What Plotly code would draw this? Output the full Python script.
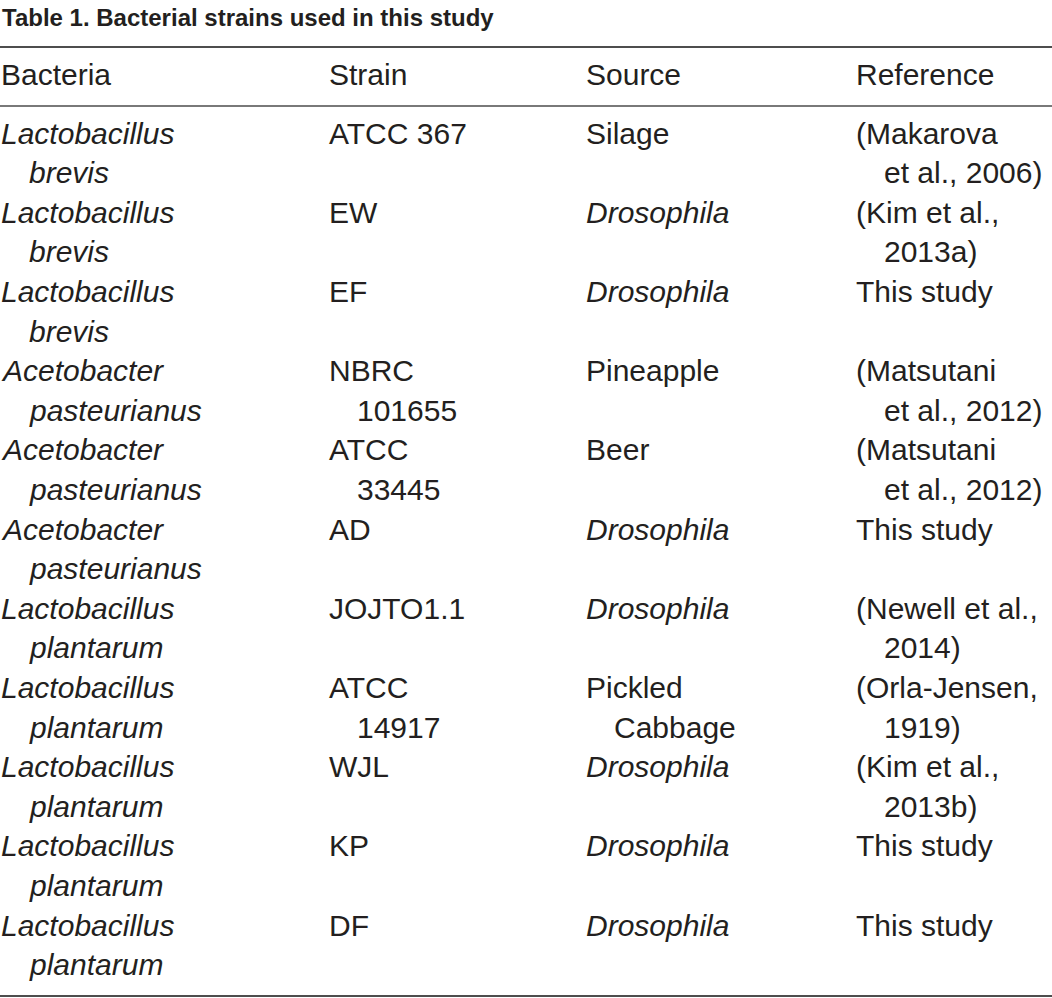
import plotly.graph_objects as go

title = "Table 1. Bacterial strains used in this study"
headers = ["Bacteria", "Strain", "Source", "Reference"]

genus = ["Lactobacillus", "Lactobacillus", "Lactobacillus", "Acetobacter", "Acetobacter",
         "Acetobacter", "Lactobacillus", "Lactobacillus", "Lactobacillus", "Lactobacillus",
         "Lactobacillus"]
species = ["brevis", "brevis", "brevis", "pasteurianus", "pasteurianus", "pasteurianus",
           "plantarum", "plantarum", "plantarum", "plantarum", "plantarum"]
strain = [["ATCC 367"], ["EW"], ["EF"], ["NBRC", "101655"], ["ATCC", "33445"], ["AD"],
          ["JOJTO1.1"], ["ATCC", "14917"], ["WJL"], ["KP"], ["DF"]]
source = [["Silage"], ["Drosophila"], ["Drosophila"], ["Pineapple"], ["Beer"], ["Drosophila"],
          ["Drosophila"], ["Pickled", "Cabbage"], ["Drosophila"], ["Drosophila"], ["Drosophila"]]
reference = [["(Makarova", "et al., 2006)"], ["(Kim et al.,", "2013a)"], ["This study"],
             ["(Matsutani", "et al., 2012)"], ["(Matsutani", "et al., 2012)"], ["This study"],
             ["(Newell et al.,", "2014)"], ["(Orla-Jensen,", "1919)"], ["(Kim et al.,", "2013b)"],
             ["This study"], ["This study"]]

W, H = 1052, 998
col_x = [2, 330, 587, 857]
indent = 28
row0 = 133
row_pitch = 79.2
line_pitch = 39.6
txt = "#231f20"
FONT = "Liberation Sans, Arial, sans-serif"

fig = go.Figure()
ann = []

def add(x, y, s, size=30, italic=False, bold=False, family=FONT, xshift=-3):
    if italic:
        s = "<i>" + s + "</i>"
    if bold:
        s = "<b>" + s + "</b>"
    ann.append(dict(x=x, y=y, xref="x", yref="y", text=s, showarrow=False,
                    xanchor="left", yanchor="middle", xshift=xshift,
                    font=dict(family=family, size=size, color=txt)))

add(0, 17, title, size=24, bold=True, xshift=0)

for cx, h in zip(col_x, headers):
    add(cx, 74, h)

for i in range(len(genus)):
    y = row0 + i * row_pitch
    add(col_x[0], y, genus[i], italic=True)
    add(col_x[0] + indent, y + line_pitch, species[i], italic=True)
    for c, col in ((1, strain), (2, source), (3, reference)):
        for j, s in enumerate(col[i]):
            ital = s == "Drosophila"
            add(col_x[c] + (indent if j else 0), y + j * line_pitch, s, italic=ital)

shapes = [
    dict(type="line", x0=0, x1=W, y0=47, y1=47, xref="x", yref="y",
         line=dict(color="#4d4d4d", width=2)),
    dict(type="line", x0=0, x1=W, y0=106, y1=106, xref="x", yref="y",
         line=dict(color="#4d4d4d", width=1.5)),
    dict(type="line", x0=0, x1=W, y0=996, y1=996, xref="x", yref="y",
         line=dict(color="#4d4d4d", width=2)),
]

fig.update_layout(
    width=W, height=H, margin=dict(l=0, r=0, t=0, b=0),
    paper_bgcolor="white", plot_bgcolor="white",
    xaxis=dict(range=[0, W], visible=False, fixedrange=True),
    yaxis=dict(range=[H, 0], visible=False, fixedrange=True),
    annotations=ann, shapes=shapes, showlegend=False,
)

fig.write_html("out.html", config={"displayModeBar": False},
               post_script="document.body.style.margin='0';document.body.style.overflow='hidden';")
